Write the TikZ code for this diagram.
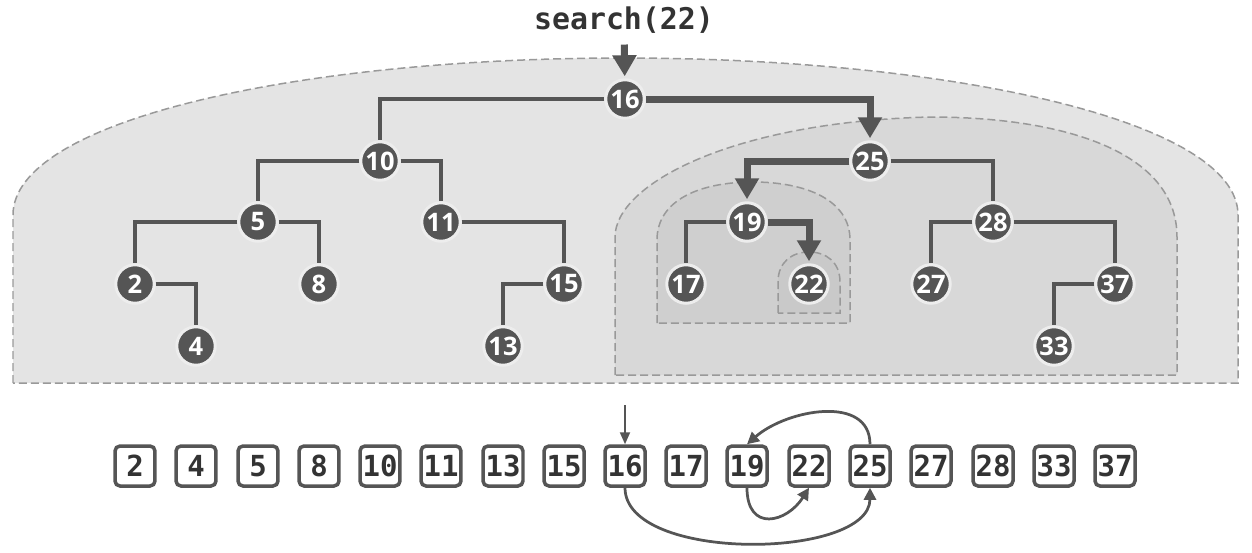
\documentclass[tikz,border=0pt]{standalone}
\usepackage{fontspec}
\setmainfont{Open Sans}
\newfontfamily\codefont{DejaVu Sans Mono}
\usepackage{xcolor}
\usepackage{tikz}
\usetikzlibrary{arrows.meta,positioning,calc}

\definecolor{keygray}{HTML}{555555}
\definecolor{textgray}{HTML}{333333}
\definecolor{dashgray}{HTML}{999999}
\definecolor{outerfill}{HTML}{E4E4E4}
\definecolor{midfill}{HTML}{D8D8D8}
\definecolor{innerfill}{HTML}{CFCFCF}
\definecolor{leaffill}{HTML}{C9C9C9}

\begin{document}
\begin{tikzpicture}[
    x=0.02cm, y=-0.02cm,
    key/.style={circle, fill=keygray, draw=white!93!black, line width=0.06cm, minimum size=0.77cm, inner sep=0pt, text=white, font=\bfseries\fontsize{14.5}{14.5}\selectfont},
    cell/.style={rectangle, rounded corners=0.1cm, draw=keygray, fill=white, line width=0.07cm, minimum size=0.8cm, inner sep=0pt, text=textgray, font=\codefont\bfseries\fontsize{16.5}{16.5}\selectfont},
    edge/.style={draw=keygray, line width=0.065cm},
    hop/.style={draw=keygray, line width=0.14cm, shorten >=0.04cm, -{Triangle[width=0.46cm,length=0.42cm]}},
    entry/.style={draw=keygray, line width=0.04cm, -{Triangle[width=0.2cm,length=0.24cm]}},
    jump/.style={draw=keygray, line width=0.055cm, -{Triangle[width=0.24cm,length=0.24cm]}},
    region/.style={draw=dashgray, line width=0.03cm, dash pattern=on 0.16cm off 0.08cm}
]
\useasboundingbox (0,0) rectangle (1252,552);

% Subtrees searched
\path[region, fill=outerfill] (13,383) -- (13,215) .. controls (13,120) and (300,58) .. (623,58)
    .. controls (946,58) and (1238,120) .. (1238,215) -- (1238,383) -- cycle;
\path[region, fill=midfill] (615,375) -- (615,237) .. controls (615,185) and (730,122) .. (930,117)
    .. controls (1060,117) and (1177,150) .. (1177,237) -- (1177,375) -- cycle;
\path[region, fill=innerfill] (657,323) -- (657,240) .. controls (657,200) and (700,182) .. (753,182)
    .. controls (806,182) and (850,200) .. (850,240) -- (850,323) -- cycle;
\path[region, fill=leaffill] (778,313) -- (778,282) .. controls (778,262) and (792,252) .. (809,252)
    .. controls (826,252) and (840,262) .. (840,282) -- (840,313) -- cycle;

% Tree
\node[key] (n16) at (625,99) {16};
\node[key] (n10) at (380,161) {10};
\node[key] (n25) at (870,161) {25};
\node[key] (n5) at (258,222) {5};
\node[key] (n11) at (441,222) {11};
\node[key] (n19) at (747,222) {19};
\node[key] (n28) at (993,222) {28};
\node[key] (n2) at (135,284) {2};
\node[key] (n8) at (319,284) {8};
\node[key] (n15) at (564,284) {15};
\node[key] (n17) at (686,284) {17};
\node[key] (n22) at (809,284) {22};
\node[key] (n27) at (931,284) {27};
\node[key] (n37) at (1115,284) {37};
\node[key] (n4) at (196,346) {4};
\node[key] (n13) at (503,346) {13};
\node[key] (n33) at (1054,346) {33};

\draw[edge] (n16) -| (n10);
\draw[edge] (n10) -| (n5);
\draw[edge] (n10) -| (n11);
\draw[edge] (n5) -| (n2);
\draw[edge] (n5) -| (n8);
\draw[edge] (n2) -| (n4);
\draw[edge] (n11) -| (n15);
\draw[edge] (n15) -| (n13);
\draw[edge] (n25) -| (n28);
\draw[edge] (n19) -| (n17);
\draw[edge] (n28) -| (n27);
\draw[edge] (n28) -| (n37);
\draw[edge] (n37) -| (n33);

% Search path
\node[font=\codefont\bfseries\fontsize{17}{17}\selectfont, text=textgray] (query) at (624,20) {search(22)};
\draw[hop, shorten <=0.1cm] (query) -- (n16);
\draw[hop] (n16) -| (n25);
\draw[hop] (n25) -| (n19);
\draw[hop] (n19) -| (n22);

% Sorted sequence
\node[cell] (a2) at (135,466) {2};
\node[cell] (a4) at (196,466) {4};
\node[cell] (a5) at (258,466) {5};
\node[cell] (a8) at (319,466) {8};
\node[cell] (a10) at (380,466) {10};
\node[cell] (a11) at (441,466) {11};
\node[cell] (a13) at (503,466) {13};
\node[cell] (a15) at (564,466) {15};
\node[cell] (a16) at (625,466) {16};
\node[cell] (a17) at (686,466) {17};
\node[cell] (a19) at (747,466) {19};
\node[cell] (a22) at (809,466) {22};
\node[cell] (a25) at (870,466) {25};
\node[cell] (a27) at (931,466) {27};
\node[cell] (a28) at (993,466) {28};
\node[cell] (a33) at (1054,466) {33};
\node[cell] (a37) at (1115,466) {37};

\coordinate (start) at (625,405);
\draw[entry] (start) -- (a16);
\draw[jump] (a16.south) .. controls +(0,75) and +(0,72) .. (a25.south);
\draw[jump] (a19.south) .. controls +(0,45) and +(-22,35) .. (a22.south);
\draw[jump] (a25.north) .. controls +(0,-50) and +(40,-35) .. (a19.north);

\end{tikzpicture}
\end{document}
